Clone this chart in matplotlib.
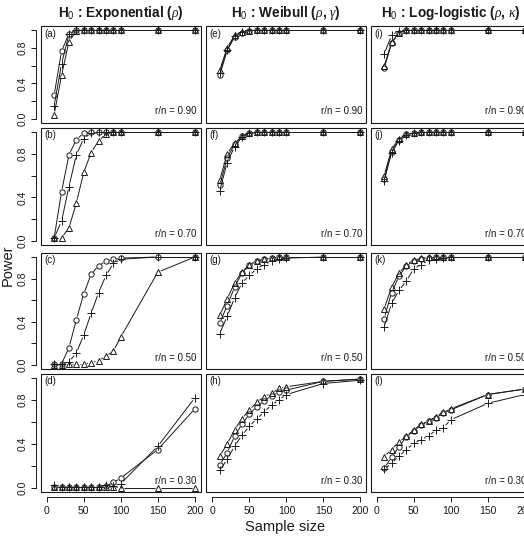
import numpy as np
import matplotlib
matplotlib.use("Agg")
import matplotlib.pyplot as plt
from matplotlib.patches import Rectangle

plt.rcParams['font.family'] = ['Liberation Sans', 'DejaVu Sans']
plt.rcParams['mathtext.fontset'] = 'custom'
plt.rcParams['mathtext.rm'] = 'Liberation Sans'
plt.rcParams['mathtext.bf'] = 'Liberation Sans:bold'
plt.rcParams['mathtext.it'] = 'Liberation Serif:italic'

# sample sizes
n = [10, 20, 30, 40, 50, 60, 70, 80, 90, 100, 150, 200]

# column titles and censoring levels
titles = [r'$\mathbf{H}_{0}$ : Exponential ($\rho$)',
          r'$\mathbf{H}_{0}$ : Weibull ($\rho$, $\gamma$)',
          r'$\mathbf{H}_{0}$ : Log-logistic ($\rho$, $\kappa$)']
ratios = ['0.90', '0.70', '0.50', '0.30']
letters = ['a', 'b', 'c', 'd', 'e', 'f', 'g', 'h', 'i', 'j', 'k', 'l']

# power curves: circle, plus, triangle
exp_90_circ = [0.27, 0.76, 0.96, 1, 1, 1, 1, 1, 1, 1, 1, 1]
exp_90_plus = [0.15, 0.62, 0.95, 1, 1, 1, 1, 1, 1, 1, 1, 1]
exp_90_tri = [0.05, 0.49, 0.87, 0.99, 1, 1, 1, 1, 1, 1, 1, 1]
exp_70_circ = [0.03, 0.45, 0.79, 0.93, 0.99, 1, 1, 1, 1, 1, 1, 1]
exp_70_plus = [0.03, 0.18, 0.50, 0.79, 0.94, 0.99, 1, 1, 1, 1, 1, 1]
exp_70_tri = [0.03, 0.03, 0.12, 0.35, 0.63, 0.81, 0.92, 0.98, 1, 1, 1, 1]
exp_50_circ = [0.01, 0.01, 0.16, 0.42, 0.66, 0.84, 0.92, 0.96, 0.98, 0.99, 1, 1]
exp_50_plus = [0.01, 0.01, 0.03, 0.11, 0.28, 0.48, 0.67, 0.83, 0.94, 0.98, 1, 1]
exp_50_tri = [0.0, 0.0, 0.01, 0.01, 0.01, 0.02, 0.04, 0.08, 0.13, 0.26, 0.86, 1.0]
exp_30_circ = [0.01, 0.01, 0.01, 0.01, 0.01, 0.01, 0.01, 0.02, 0.05, 0.09, 0.35, 0.72]
exp_30_plus = [0.03, 0.01, 0.01, 0.01, 0.01, 0.01, 0.01, 0.03, 0.02, 0.04, 0.38, 0.82]
exp_30_tri = [0.01, 0.01, 0.01, 0.01, 0.01, 0.01, 0.01, 0.01, 0.01, 0.0, 0.0, 0.0]

wei_90_circ = [0.49, 0.77, 0.92, 0.97, 0.99, 1, 1, 1, 1, 1, 1, 1]
wei_90_plus = [0.52, 0.78, 0.93, 0.98, 1, 1, 1, 1, 1, 1, 1, 1]
wei_90_tri = [0.55, 0.80, 0.94, 0.98, 0.99, 1, 1, 1, 1, 1, 1, 1]
wei_70_circ = [0.51, 0.76, 0.89, 0.96, 0.99, 1, 1, 1, 1, 1, 1, 1]
wei_70_plus = [0.46, 0.72, 0.865, 0.95, 0.99, 1, 1, 1, 1, 1, 1, 1]
wei_70_tri = [0.56, 0.80, 0.90, 0.96, 0.99, 1, 1, 1, 1, 1, 1, 1]
wei_50_circ = [0.39, 0.55, 0.72, 0.85, 0.93, 0.96, 0.98, 0.99, 1, 1, 1, 1]
wei_50_plus = [0.29, 0.45, 0.62, 0.76, 0.83, 0.89, 0.93, 0.96, 0.98, 0.99, 1, 1]
wei_50_tri = [0.46, 0.61, 0.76, 0.86, 0.93, 0.96, 0.98, 0.99, 1, 1, 1, 1]
wei_30_circ = [0.21, 0.32, 0.47, 0.58, 0.67, 0.74, 0.79, 0.84, 0.87, 0.89, 0.97, 0.99]
wei_30_plus = [0.16, 0.26, 0.38, 0.48, 0.56, 0.63, 0.69, 0.755, 0.80, 0.85, 0.95, 0.98]
wei_30_tri = [0.29, 0.40, 0.53, 0.63, 0.71, 0.78, 0.83, 0.86, 0.905, 0.92, 0.97, 0.99]

llg_90_circ = [0.57, 0.85, 0.97, 1, 1, 1, 1, 1, 1, 1, 1, 1]
llg_90_plus = [0.73, 0.94, 0.99, 1, 1, 1, 1, 1, 1, 1, 1, 1]
llg_90_tri = [0.59, 0.86, 0.97, 1, 1, 1, 1, 1, 1, 1, 1, 1]
llg_70_circ = [0.57, 0.82, 0.93, 0.98, 0.99, 1, 1, 1, 1, 1, 1, 1]
llg_70_plus = [0.55, 0.81, 0.92, 0.97, 0.99, 1, 1, 1, 1, 1, 1, 1]
llg_70_tri = [0.60, 0.84, 0.94, 0.98, 0.99, 1, 1, 1, 1, 1, 1, 1]
llg_50_circ = [0.43, 0.67, 0.82, 0.92, 0.96, 0.98, 0.99, 1, 1, 1, 1, 1]
llg_50_plus = [0.35, 0.57, 0.69, 0.78, 0.89, 0.93, 0.97, 0.98, 0.99, 1, 1, 1]
llg_50_tri = [0.52, 0.72, 0.85, 0.93, 0.97, 0.99, 1, 1, 1, 1, 1, 1]
llg_30_circ = [0.18, 0.28, 0.375, 0.465, 0.52, 0.57, 0.61, 0.64, 0.68, 0.71, 0.85, 0.90]
llg_30_plus = [0.17, 0.225, 0.29, 0.35, 0.405, 0.44, 0.47, 0.53, 0.55, 0.62, 0.77, 0.85]
llg_30_tri = [0.285, 0.35, 0.42, 0.47, 0.53, 0.58, 0.61, 0.65, 0.69, 0.72, 0.85, 0.90]

panels = [
    [(exp_90_circ, exp_90_plus, exp_90_tri), (exp_70_circ, exp_70_plus, exp_70_tri),
     (exp_50_circ, exp_50_plus, exp_50_tri), (exp_30_circ, exp_30_plus, exp_30_tri)],
    [(wei_90_circ, wei_90_plus, wei_90_tri), (wei_70_circ, wei_70_plus, wei_70_tri),
     (wei_50_circ, wei_50_plus, wei_50_tri), (wei_30_circ, wei_30_plus, wei_30_tri)],
    [(llg_90_circ, llg_90_plus, llg_90_tri), (llg_70_circ, llg_70_plus, llg_70_tri),
     (llg_50_circ, llg_50_plus, llg_50_tri), (llg_30_circ, llg_30_plus, llg_30_tri)],
]

W, H = 524, 536
fig = plt.figure(figsize=(W / 100, H / 100), dpi=100)

# panel boxes in pixels (from top-left); the right column runs past the edge
col_left = [40.8, 206.4, 370.8]
col_w = 160.0
row_top = [26.4, 127.6, 252.7, 373.6]
row_bot = [122.6, 245.4, 369.3, 492.4]

ink = '#1a1a1a'
styles = [dict(marker='o', ms=3.8, mfc='none'),
          dict(marker='+', ms=5.5, mfc='none'),
          dict(marker='^', ms=4.2, mfc='none')]


def gapped_line(ax, xs, ys, gap=3.2):
    # like R type="b": segments stop short of the points
    pts = ax.transData.transform(np.column_stack([xs, ys]))
    inv = ax.transData.inverted()
    for p0, p1 in zip(pts[:-1], pts[1:]):
        d = p1 - p0
        L = np.hypot(d[0], d[1])
        if L <= 2 * gap + 0.5:
            continue
        u = d / L
        seg = inv.transform(np.array([p0 + u * gap, p1 - u * gap]))
        ax.plot(seg[:, 0], seg[:, 1], color=ink, lw=0.7, solid_capstyle='butt')


for c in range(3):
    for r in range(4):
        x0 = col_left[c] / W
        y0 = 1 - row_bot[r] / H
        ax = fig.add_axes([x0, y0, col_w / W, (row_bot[r] - row_top[r]) / H])
        ax.set_xlim(-8, 208)
        ax.set_ylim(-0.04, 1.04)
        for s in ax.spines.values():
            s.set_visible(False)
        ax.add_patch(Rectangle((0, 0), 1, 1, transform=ax.transAxes, fill=False,
                               lw=0.8, ec=ink, clip_on=False))
        ax.tick_params(colors=ink, labelsize=7.5, length=3.6, width=0.7)

        if c == 0:
            ax.spines['left'].set_visible(True)
            ax.spines['left'].set_position(('outward', 3.5))
            ax.spines['left'].set_bounds(0, 1)
            ax.spines['left'].set_linewidth(0.7)
            ax.spines['left'].set_color(ink)
            ax.set_yticks([0, 0.2, 0.4, 0.6, 0.8, 1.0])
            ax.set_yticklabels(['0.0', '', '0.4', '', '0.8', ''], rotation=90, va='center')
            ax.tick_params(axis='y', pad=2.5)
        else:
            ax.set_yticks([])

        if r == 3:
            ax.spines['bottom'].set_visible(True)
            ax.spines['bottom'].set_position(('outward', 3))
            ax.spines['bottom'].set_bounds(0, 200)
            ax.spines['bottom'].set_linewidth(0.7)
            ax.spines['bottom'].set_color(ink)
            ax.set_xticks([0, 50, 100, 150, 200])
            ax.tick_params(axis='x', pad=3)
        else:
            ax.set_xticks([])

        for ys, st in zip(panels[c][r], styles):
            gapped_line(ax, n, ys)
            ax.plot(n, ys, ls='none', color=ink, mec=ink, mew=0.7, clip_on=False, **st)

        ax.annotate('(' + letters[c * 4 + r] + ')', xy=(0, 1), xycoords='axes fraction',
                    xytext=(2.5, -2), textcoords='offset points', ha='left', va='top',
                    fontsize=7, color=ink)
        ax.annotate('r/n = ' + ratios[r], xy=(1, 0), xycoords='axes fraction',
                    xytext=(-3, 4.5), textcoords='offset points', ha='right', va='bottom',
                    fontsize=7, color=ink)

        if r == 0:
            fig.text(x0 + col_w / W / 2, 1 - 13 / H, titles[c], ha='center', va='center',
                     fontsize=9.8, fontweight='bold', color=ink)

fig.text(8 / W, 1 - 265 / H, 'Power', rotation=90, ha='center', va='center',
         fontsize=10.5, color=ink)
fig.text(285 / W, 1 - 527 / H, 'Sample size', ha='center', va='center',
         fontsize=10.5, color=ink)

fig.savefig('out.png', dpi=100)
